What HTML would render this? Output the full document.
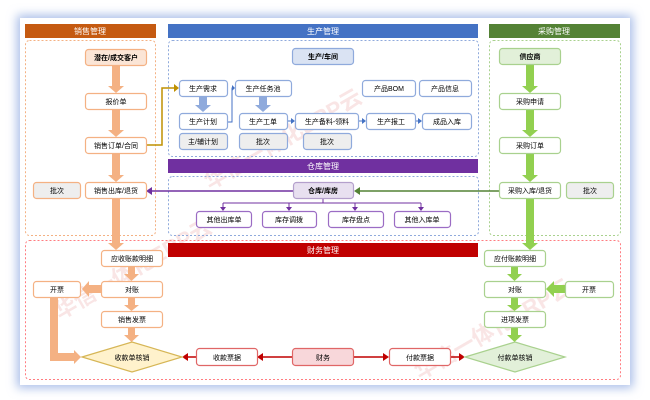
<!DOCTYPE html>
<html><head><meta charset="utf-8"><style>
html,body{margin:0;padding:0;background:#fff;}
svg{display:block;font-family:"Liberation Sans","Noto Sans CJK SC",sans-serif;}
</style></head><body>
<svg width="650" height="400" viewBox="0 0 650 400" xmlns="http://www.w3.org/2000/svg">
<defs>
<filter id="sh" x="-10%" y="-10%" width="120%" height="120%"><feGaussianBlur stdDeviation="5"/></filter>
</defs>
<rect x="0" y="0" width="650" height="400" fill="#fff"/>
<rect x="17" y="15" width="616" height="373" fill="#a9bde8" filter="url(#sh)"/>
<rect x="20" y="18" width="610" height="367" fill="#fff"/>

<!-- watermark -->
<g fill="#f2c4c4" opacity="0.45" font-size="22" font-weight="bold">
<text x="210" y="190" transform="rotate(-30 210 190)">华信一体化ERP云</text>
<text x="60" y="320" transform="rotate(-30 60 320)">华信一体化ERP云</text>
<text x="420" y="380" transform="rotate(-30 420 380)">华信一体化ERP云</text>
</g>

<!-- group boxes -->
<rect x="25.5" y="40.5" width="130" height="195" rx="4" fill="none" stroke="#f4b183" stroke-dasharray="2,2"/>
<rect x="168.5" y="40.5" width="310" height="116" rx="4" fill="none" stroke="#8faadc" stroke-dasharray="2,2"/>
<rect x="489.5" y="40.5" width="131" height="195" rx="4" fill="none" stroke="#a9d18e" stroke-dasharray="2,2"/>
<rect x="168.5" y="176.5" width="310" height="59" rx="4" fill="none" stroke="#8faadc" stroke-dasharray="2,2"/>
<rect x="25.5" y="240.5" width="595" height="139" rx="4" fill="none" stroke="#ff7c80" stroke-dasharray="2,2"/>

<!-- headers -->
<g font-size="8" fill="#fff" text-anchor="middle">
<rect x="25" y="24" width="131" height="14" fill="#c55a11"/><text x="90" y="34">销售管理</text>
<rect x="168" y="24" width="310" height="14" fill="#4472c4"/><text x="323" y="34">生产管理</text>
<rect x="489" y="24" width="131" height="14" fill="#548235"/><text x="554" y="34">采购管理</text>
<rect x="168" y="159" width="310" height="14" fill="#7030a0"/><text x="323" y="169">仓库管理</text>
<rect x="168" y="243" width="310" height="14" fill="#c00000"/><text x="323" y="253">财务管理</text>
</g>

<!-- orange sales arrows -->
<g fill="#f4b183">
<rect x="112" y="65" width="8" height="21"/><polygon points="108,86 124,86 116,93"/>
<rect x="112" y="109" width="8" height="21"/><polygon points="108,130 124,130 116,137"/>
<rect x="112" y="153" width="8" height="22"/><polygon points="108,175 124,175 116,182"/>
<rect x="112" y="199" width="8" height="44"/><polygon points="108,243 124,243 116,250"/>
<rect x="128" y="266" width="7" height="8"/><polygon points="124,274 139,274 131.5,281"/>
<rect x="128" y="297" width="7" height="8"/><polygon points="124,305 139,305 131.5,311"/>
<rect x="128" y="327" width="7" height="8"/><polygon points="124,335 139,335 131.5,342"/>
<rect x="89" y="285" width="12" height="8"/><polygon points="89,281 89,297 82,289"/>
<polygon points="50,297 58,297 58,353 74,353 74,350 81,357 74,364 74,361 50,361"/>
</g>
<!-- green purchase arrows -->
<g fill="#92d050">
<rect x="526" y="65" width="8" height="21"/><polygon points="522,86 538,86 530,93"/>
<rect x="526" y="109" width="8" height="21"/><polygon points="522,130 538,130 530,137"/>
<rect x="526" y="153" width="8" height="22"/><polygon points="522,175 538,175 530,182"/>
<rect x="526" y="199" width="8" height="44"/><polygon points="522,243 538,243 530,250"/>
<rect x="511" y="266" width="7" height="8"/><polygon points="507,274 522,274 514.5,281"/>
<rect x="511" y="297" width="7" height="8"/><polygon points="507,305 522,305 514.5,311"/>
<rect x="511" y="327" width="7" height="8"/><polygon points="507,335 522,335 514.5,342"/>
<rect x="554" y="285" width="11" height="8"/><polygon points="554,281 554,297 546,289"/>
</g>
<!-- blue block arrows -->
<g fill="#8faadc">
<rect x="199" y="97" width="8" height="8"/><polygon points="195,105 211,105 203,112"/>
<rect x="259" y="97" width="8" height="8"/><polygon points="255,105 271,105 263,112"/>
</g>
<!-- thin connectors -->
<g fill="none" stroke-width="1.5">
<polyline points="146,145 162,145 162,88 174,88" stroke="#bf9000"/>
<polyline points="228,122 232,122 232,88 233,88" stroke="#4472c4" stroke-width="1"/>
<line x1="287" y1="121" x2="292" y2="121" stroke="#4472c4" stroke-width="1"/>
<line x1="358" y1="121" x2="363" y2="121" stroke="#4472c4" stroke-width="1"/>
<line x1="415" y1="121" x2="419" y2="121" stroke="#4472c4" stroke-width="1"/>
<line x1="499" y1="191" x2="360" y2="191" stroke="#548235"/>
<line x1="293" y1="191" x2="152" y2="191" stroke="#7030a0"/>
<polyline points="323,199 323,203" stroke="#7030a0" stroke-width="1"/>
<line x1="223" y1="203" x2="421" y2="203" stroke="#7030a0" stroke-width="1"/>
<line x1="223" y1="203" x2="223" y2="208" stroke="#7030a0" stroke-width="1"/>
<line x1="289" y1="203" x2="289" y2="208" stroke="#7030a0" stroke-width="1"/>
<line x1="355" y1="203" x2="355" y2="208" stroke="#7030a0" stroke-width="1"/>
<line x1="421" y1="203" x2="421" y2="208" stroke="#7030a0" stroke-width="1"/>
<line x1="292" y1="357" x2="263" y2="357" stroke="#c00000"/>
<line x1="196" y1="357" x2="188" y2="357" stroke="#c00000"/>
<line x1="353" y1="357" x2="383" y2="357" stroke="#c00000"/>
<line x1="450" y1="357" x2="459" y2="357" stroke="#c00000"/>
</g>
<g>
<polygon points="174,84 179,88 174,92" fill="#bf9000"/>
<polygon points="232,85 235,88 232,91" fill="#4472c4"/>
<polygon points="291,118 295,121 291,124" fill="#4472c4"/>
<polygon points="362,118 366,121 362,124" fill="#4472c4"/>
<polygon points="418,118 422,121 418,124" fill="#4472c4"/>
<polygon points="360,187 354,191 360,195" fill="#548235"/>
<polygon points="152,187 146,191 152,195" fill="#7030a0"/>
<polygon points="220,207 226,207 223,211" fill="#7030a0"/>
<polygon points="286,207 292,207 289,211" fill="#7030a0"/>
<polygon points="352,207 358,207 355,211" fill="#7030a0"/>
<polygon points="418,207 424,207 421,211" fill="#7030a0"/>
<polygon points="263,353 257,357 263,361" fill="#c00000"/>
<polygon points="188,353 182,357 188,361" fill="#c00000"/>
<polygon points="383,353 389,357 383,361" fill="#c00000"/>
<polygon points="459,353 465,357 459,361" fill="#c00000"/>
</g>

<!-- nodes -->
<g font-size="7" text-anchor="middle" stroke-width="1.2">
<!-- sales -->
<rect x="85.5" y="49.5" width="61" height="16" rx="3" fill="#fbe5d6" stroke="#f4b183"/><text x="116" y="60" font-weight="bold">潜在/成交客户</text>
<rect x="85.5" y="93.5" width="61" height="16" rx="3" fill="#fff" stroke="#f4b183"/><text x="116" y="104">报价单</text>
<rect x="85.5" y="137.5" width="61" height="16" rx="3" fill="#fff" stroke="#f4b183"/><text x="116" y="148">销售订单/合同</text>
<rect x="85.5" y="182.5" width="61" height="16" rx="3" fill="#fff" stroke="#f4b183"/><text x="116" y="193">销售出库/退货</text>
<rect x="33.5" y="182.5" width="47" height="16" rx="3" fill="#eeeeee" stroke="#f4b183"/><text x="57" y="193">批次</text>
<!-- production -->
<rect x="292.5" y="48.5" width="61" height="16" rx="3" fill="#dae3f3" stroke="#8faadc"/><text x="323" y="59" font-weight="bold">生产/车间</text>
<rect x="179.5" y="80.5" width="48" height="16" rx="3" fill="#fff" stroke="#8faadc"/><text x="203" y="91">生产需求</text>
<rect x="235.5" y="80.5" width="56" height="16" rx="3" fill="#fff" stroke="#8faadc"/><text x="263" y="91">生产任务池</text>
<rect x="362.5" y="80.5" width="53" height="16" rx="3" fill="#fff" stroke="#8faadc"/><text x="389" y="91">产品BOM</text>
<rect x="419.5" y="80.5" width="52" height="16" rx="3" fill="#fff" stroke="#8faadc"/><text x="445" y="91">产品信息</text>
<rect x="179.5" y="113.5" width="48" height="16" rx="3" fill="#fff" stroke="#8faadc"/><text x="203" y="124">生产计划</text>
<rect x="239.5" y="113.5" width="48" height="16" rx="3" fill="#fff" stroke="#8faadc"/><text x="263" y="124">生产工单</text>
<rect x="295.5" y="113.5" width="63" height="16" rx="3" fill="#fff" stroke="#8faadc"/><text x="327" y="124">生产备料-领料</text>
<rect x="366.5" y="113.5" width="49" height="16" rx="3" fill="#fff" stroke="#8faadc"/><text x="391" y="124">生产报工</text>
<rect x="422.5" y="113.5" width="49" height="16" rx="3" fill="#fff" stroke="#8faadc"/><text x="447" y="124">成品入库</text>
<rect x="179.5" y="133.5" width="48" height="16" rx="3" fill="#eeeeee" stroke="#8faadc"/><text x="203" y="144">主/辅计划</text>
<rect x="239.5" y="133.5" width="48" height="16" rx="3" fill="#eeeeee" stroke="#8faadc"/><text x="263" y="144">批次</text>
<rect x="303.5" y="133.5" width="48" height="16" rx="3" fill="#eeeeee" stroke="#8faadc"/><text x="327" y="144">批次</text>
<!-- purchase -->
<rect x="499.5" y="48.5" width="61" height="16" rx="3" fill="#e2f0d9" stroke="#a9d18e"/><text x="530" y="59" font-weight="bold">供应商</text>
<rect x="499.5" y="93.5" width="61" height="16" rx="3" fill="#fff" stroke="#a9d18e"/><text x="530" y="104">采购申请</text>
<rect x="499.5" y="137.5" width="61" height="16" rx="3" fill="#fff" stroke="#a9d18e"/><text x="530" y="148">采购订单</text>
<rect x="499.5" y="182.5" width="61" height="16" rx="3" fill="#fff" stroke="#a9d18e"/><text x="530" y="193">采购入库/退货</text>
<rect x="566.5" y="182.5" width="47" height="16" rx="3" fill="#eeeeee" stroke="#a9d18e"/><text x="590" y="193">批次</text>
<!-- warehouse -->
<rect x="293.5" y="182.5" width="60" height="16" rx="3" fill="#e8e0f0" stroke="#b4a0cc"/><text x="323" y="193" font-weight="bold">仓库/库房</text>
<rect x="196.5" y="211.5" width="55" height="16" rx="3" fill="#fff" stroke="#9b6cc4"/><text x="224" y="222">其他出库单</text>
<rect x="262.5" y="211.5" width="54" height="16" rx="3" fill="#fff" stroke="#9b6cc4"/><text x="289" y="222">库存调拨</text>
<rect x="328.5" y="211.5" width="55" height="16" rx="3" fill="#fff" stroke="#9b6cc4"/><text x="356" y="222">库存盘点</text>
<rect x="394.5" y="211.5" width="56" height="16" rx="3" fill="#fff" stroke="#9b6cc4"/><text x="422" y="222">其他入库单</text>
<!-- finance left -->
<rect x="101.5" y="250.5" width="61" height="16" rx="3" fill="#fff" stroke="#f4b183"/><text x="132" y="261">应收账款明细</text>
<rect x="101.5" y="281.5" width="61" height="16" rx="3" fill="#fff" stroke="#f4b183"/><text x="132" y="292">对账</text>
<rect x="101.5" y="311.5" width="61" height="16" rx="3" fill="#fff" stroke="#f4b183"/><text x="132" y="322">销售发票</text>
<rect x="33.5" y="281.5" width="47" height="16" rx="3" fill="#fff" stroke="#f4b183"/><text x="57" y="292">开票</text>
<polygon points="82,357 132,342 182,357 132,372" fill="#fff2cc" stroke="#d6b656"/><text x="132" y="360">收款单核销</text>
<rect x="196.5" y="348.5" width="61" height="17" rx="3" fill="#fff" stroke="#e06666"/><text x="227" y="360">收款票据</text>
<rect x="292.5" y="348.5" width="61" height="17" rx="3" fill="#f8d7da" stroke="#e06666"/><text x="323" y="360">财务</text>
<rect x="389.5" y="348.5" width="61" height="17" rx="3" fill="#fff" stroke="#e06666"/><text x="420" y="360">付款票据</text>
<!-- finance right -->
<rect x="484.5" y="250.5" width="61" height="16" rx="3" fill="#fff" stroke="#a9d18e"/><text x="515" y="261">应付账款明细</text>
<rect x="484.5" y="281.5" width="61" height="16" rx="3" fill="#fff" stroke="#a9d18e"/><text x="515" y="292">对账</text>
<rect x="484.5" y="311.5" width="61" height="16" rx="3" fill="#fff" stroke="#a9d18e"/><text x="515" y="322">进项发票</text>
<rect x="565.5" y="281.5" width="48" height="16" rx="3" fill="#fff" stroke="#a9d18e"/><text x="589" y="292">开票</text>
<polygon points="465,357 515,342 565,357 515,372" fill="#e2f0d9" stroke="#a9d18e"/><text x="515" y="360">付款单核销</text>
</g>
</svg>
</body></html>
